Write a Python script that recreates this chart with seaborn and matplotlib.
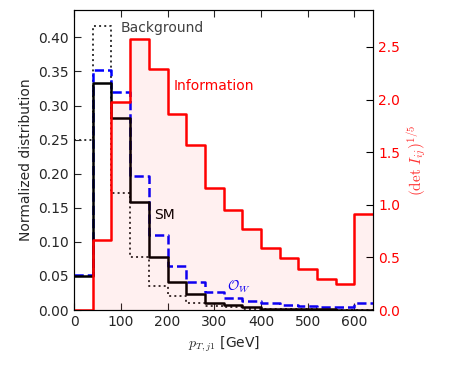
import matplotlib
matplotlib.use("Agg")
import matplotlib.pyplot as plt
import seaborn as sns

# pT,j1 binning (GeV), 40 GeV bins
bin_edges = [0, 40, 80, 120, 160, 200, 240, 280, 320, 360, 400,
             440, 480, 520, 560, 600, 640]
bin_centers = [20, 60, 100, 140, 180, 220, 260, 300, 340, 380, 420,
               460, 500, 540, 580, 620]

# normalized distributions (left axis)
background = [0.250, 0.416, 0.172, 0.078, 0.036, 0.021, 0.010, 0.006,
              0.004, 0.002, 0.001, 0.001, 0.001, 0.0005, 0.0005, 0.0005]
sm = [0.050, 0.333, 0.281, 0.159, 0.078, 0.041, 0.023, 0.011,
      0.007, 0.004, 0.002, 0.001, 0.001, 0.001, 0.0005, 0.0005]
o_w = [0.052, 0.352, 0.320, 0.196, 0.110, 0.064, 0.041, 0.026,
       0.018, 0.013, 0.010, 0.008, 0.006, 0.005, 0.004, 0.011]

# (det I_ij)^(1/5) (right axis)
information = [0.0, 0.665, 1.98, 2.58, 2.29, 1.86, 1.567, 1.155,
               0.95, 0.766, 0.59, 0.49, 0.386, 0.297, 0.244, 0.909]

sns.set_style("ticks", {"xtick.direction": "in", "ytick.direction": "in"})
plt.rcParams["font.family"] = ["DejaVu Sans"]
plt.rcParams["font.size"] = 10
plt.rcParams["mathtext.fontset"] = "cm"

fig = plt.figure(figsize=(4.49, 3.74), dpi=100)
ax = fig.add_axes([0.165, 0.171, 0.666, 0.802])
ax2 = ax.twinx()

# information fill + outline on the right axis
sns.histplot(x=bin_centers, weights=information, bins=bin_edges, element="step",
             fill=True, color="red", alpha=0.06, linewidth=0, ax=ax2)
sns.histplot(x=bin_centers, weights=information, bins=bin_edges, element="step",
             fill=False, color="red", linewidth=1.8, ax=ax2)

# distributions on the left axis
sns.histplot(x=bin_centers, weights=background, bins=bin_edges, element="step",
             fill=False, color="#333333", linestyle=":", linewidth=1.4, ax=ax)
sns.histplot(x=bin_centers, weights=o_w, bins=bin_edges, element="step",
             fill=False, color="blue", linestyle="--", linewidth=1.8, ax=ax)
sns.histplot(x=bin_centers, weights=sm, bins=bin_edges, element="step",
             fill=False, color="black", linewidth=1.8, ax=ax)

ax.set_xlim(0, 640)
ax.set_ylim(0, 0.44)
ax2.set_ylim(0, 2.85)
ax.set_xticks([0, 100, 200, 300, 400, 500, 600])
ax.set_yticks([0.0, 0.05, 0.10, 0.15, 0.20, 0.25, 0.30, 0.35, 0.40])
ax.set_yticklabels(["0.00", "0.05", "0.10", "0.15", "0.20", "0.25",
                    "0.30", "0.35", "0.40"])
ax2.set_yticks([0.0, 0.5, 1.0, 1.5, 2.0, 2.5])

ax.tick_params(axis="both", labelsize=10, length=5, top=True)
ax2.tick_params(axis="y", labelsize=10, length=5, colors="red")
ax2.tick_params(axis="y", color="black")
for spine in ax2.spines.values():
    spine.set_color("black")

ax.set_xlabel("$p_{T,j1}$ [GeV]", fontsize=10)
ax.set_ylabel("Normalized distribution", fontsize=10)
ax2.set_ylabel(r"$(\mathrm{det}\ I_{ij})^{1/5}$", fontsize=11,
               color="red", alpha=0.8)

ax.text(99, 0.414, "Background", color="#404040", fontsize=10, va="center")
ax.text(212, 0.328, "Information", color="red", fontsize=10, va="center")
ax.text(172, 0.139, "SM", color="black", fontsize=10, va="center")
ax.text(328, 0.034, r"$\mathcal{O}_W$", color="blue", fontsize=10, va="center")

fig.savefig("out.png", dpi=100)
